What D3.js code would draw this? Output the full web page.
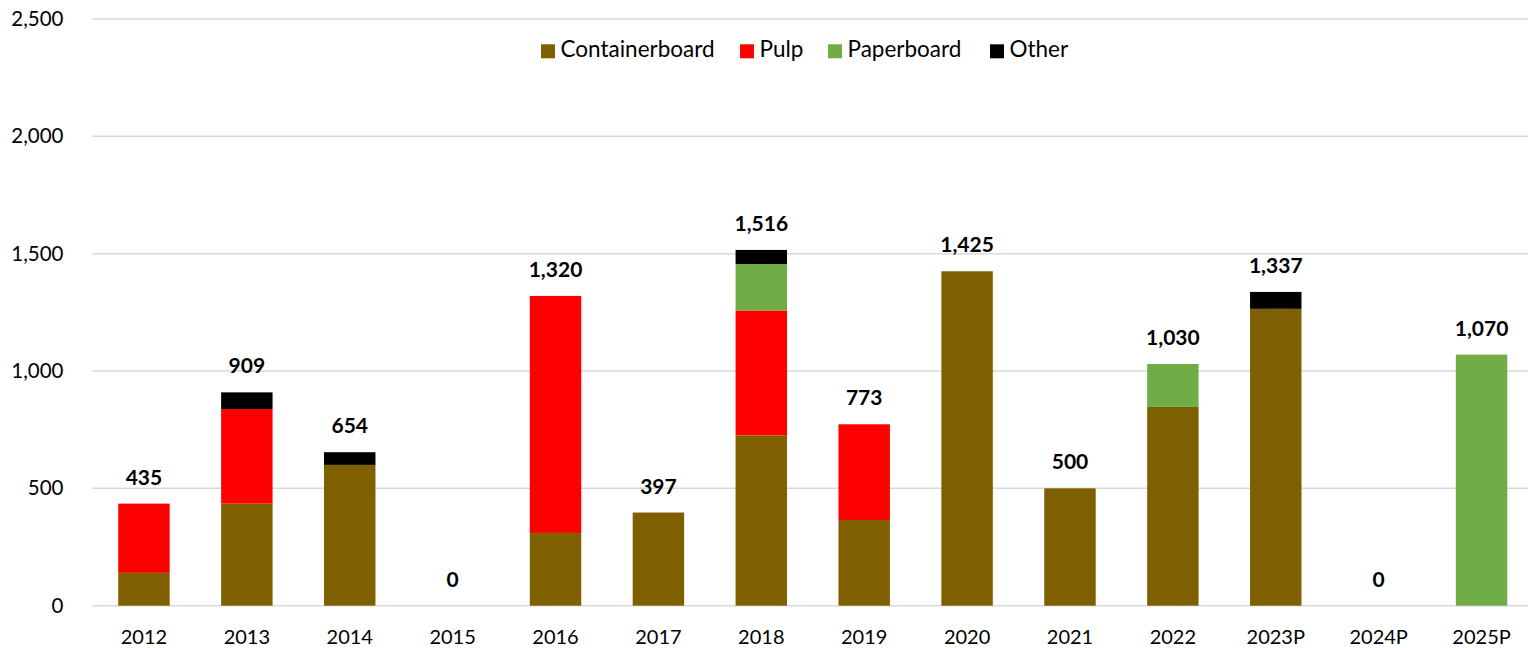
<!DOCTYPE html>
<html>
<head>
<meta charset="utf-8">
<script src="https://cdn.jsdelivr.net/npm/d3@7"></script>
<style>
  html, body { margin: 0; padding: 0; background: #fff; }
  svg { display: block; font-family: Lato, "Open Sans", sans-serif; }
  .tick text { fill: #000; }
</style>
</head>
<body>
<div id="chart"></div>
<script>
const years = ["2012", "2013", "2014", "2015", "2016", "2017", "2018", "2019", "2020", "2021", "2022", "2023P", "2024P", "2025P"];
const containerboard = [140, 435, 600, 0, 310, 397, 726, 365, 1425, 500, 847, 1265, 0, 0];
const pulp =           [295, 403, 0, 0, 1010, 0, 532, 408, 0, 0, 0, 0, 0, 0];
const paperboard =     [0, 0, 0, 0, 0, 0, 198, 0, 0, 0, 183, 0, 0, 1070];
const other =          [0, 71, 54, 0, 0, 0, 60, 0, 0, 0, 0, 72, 0, 0];
const totals =         [435, 909, 654, 0, 1320, 397, 1516, 773, 1425, 500, 1030, 1337, 0, 1070];
const yTicks = [0, 500, 1000, 1500, 2000, 2500];

const seriesNames = ["Containerboard", "Pulp", "Paperboard", "Other"];
const seriesColors = ["#7f6000", "#ff0000", "#70ad47", "#000000"];
const seriesValues = [containerboard, pulp, paperboard, other];

const width = 1528, height = 648;
const margin = { left: 92.5, right: 1533, top: 19, bottom: 605.7 };

const rows = years.map((y, i) => {
  const r = { year: y };
  seriesNames.forEach((s, k) => (r[s] = seriesValues[k][i]));
  return r;
});
const stacked = d3.stack().keys(seriesNames)(rows);

const x = d3.scaleBand().domain(years).range([margin.left, margin.right]).paddingInner(0.5).paddingOuter(0.25);
const y = d3.scaleLinear().domain([0, 2500]).range([margin.bottom, margin.top]);
const color = d3.scaleOrdinal().domain(seriesNames).range(seriesColors);
const fmt = d3.format(",");

const svg = d3.select("#chart").append("svg").attr("width", width).attr("height", height);

// gridlines
svg.append("g")
  .selectAll("line")
  .data(yTicks)
  .join("line")
  .attr("x1", margin.left)
  .attr("x2", margin.right)
  .attr("y1", (d) => y(d))
  .attr("y2", (d) => y(d))
  .attr("stroke", "#d9d9d9")
  .attr("stroke-width", 1.5);

// y axis labels
const yAxis = svg.append("g")
  .attr("transform", `translate(${margin.left},0)`)
  .call(d3.axisLeft(y).tickValues(yTicks).tickFormat(fmt).tickSize(0).tickPadding(29));
yAxis.select(".domain").remove();
yAxis.selectAll("text").attr("font-size", 20.5).attr("font-family", "Lato, sans-serif");

// x axis labels
const xAxis = svg.append("g")
  .attr("transform", `translate(0,${margin.bottom})`)
  .call(d3.axisBottom(x).tickSize(0));
xAxis.select(".domain").remove();
xAxis.selectAll("text")
  .attr("font-size", 20)
  .attr("font-family", "Lato, sans-serif")
  .attr("dy", 0)
  .attr("y", 38.5);

// bars
svg.append("g")
  .selectAll("g")
  .data(stacked)
  .join("g")
  .attr("fill", (d) => color(d.key))
  .selectAll("rect")
  .data((d) => d.filter((p) => p[1] - p[0] > 0))
  .join("rect")
  .attr("x", (d) => x(d.data.year))
  .attr("width", x.bandwidth())
  .attr("y", (d) => y(d[1]))
  .attr("height", (d) => y(d[0]) - y(d[1]));

// total labels
svg.append("g")
  .selectAll("text")
  .data(years)
  .join("text")
  .attr("x", (d) => x(d) + x.bandwidth() / 2)
  .attr("y", (d, i) => y(totals[i]) - 19)
  .attr("text-anchor", "middle")
  .attr("font-size", 21)
  .attr("font-weight", "bold")
  .text((d, i) => fmt(totals[i]));

// legend
const legendX = [541, 740, 828, 990];
const legend = svg.append("g")
  .selectAll("g")
  .data(seriesNames)
  .join("g")
  .attr("transform", (d, i) => `translate(${legendX[i]},44.3)`);
legend.append("rect").attr("width", 14).attr("height", 14).attr("fill", (d) => color(d));
legend.append("text")
  .attr("x", 19.5)
  .attr("y", 13)
  .attr("font-size", 22.5)
  .text((d) => d);
</script>
</body>
</html>
